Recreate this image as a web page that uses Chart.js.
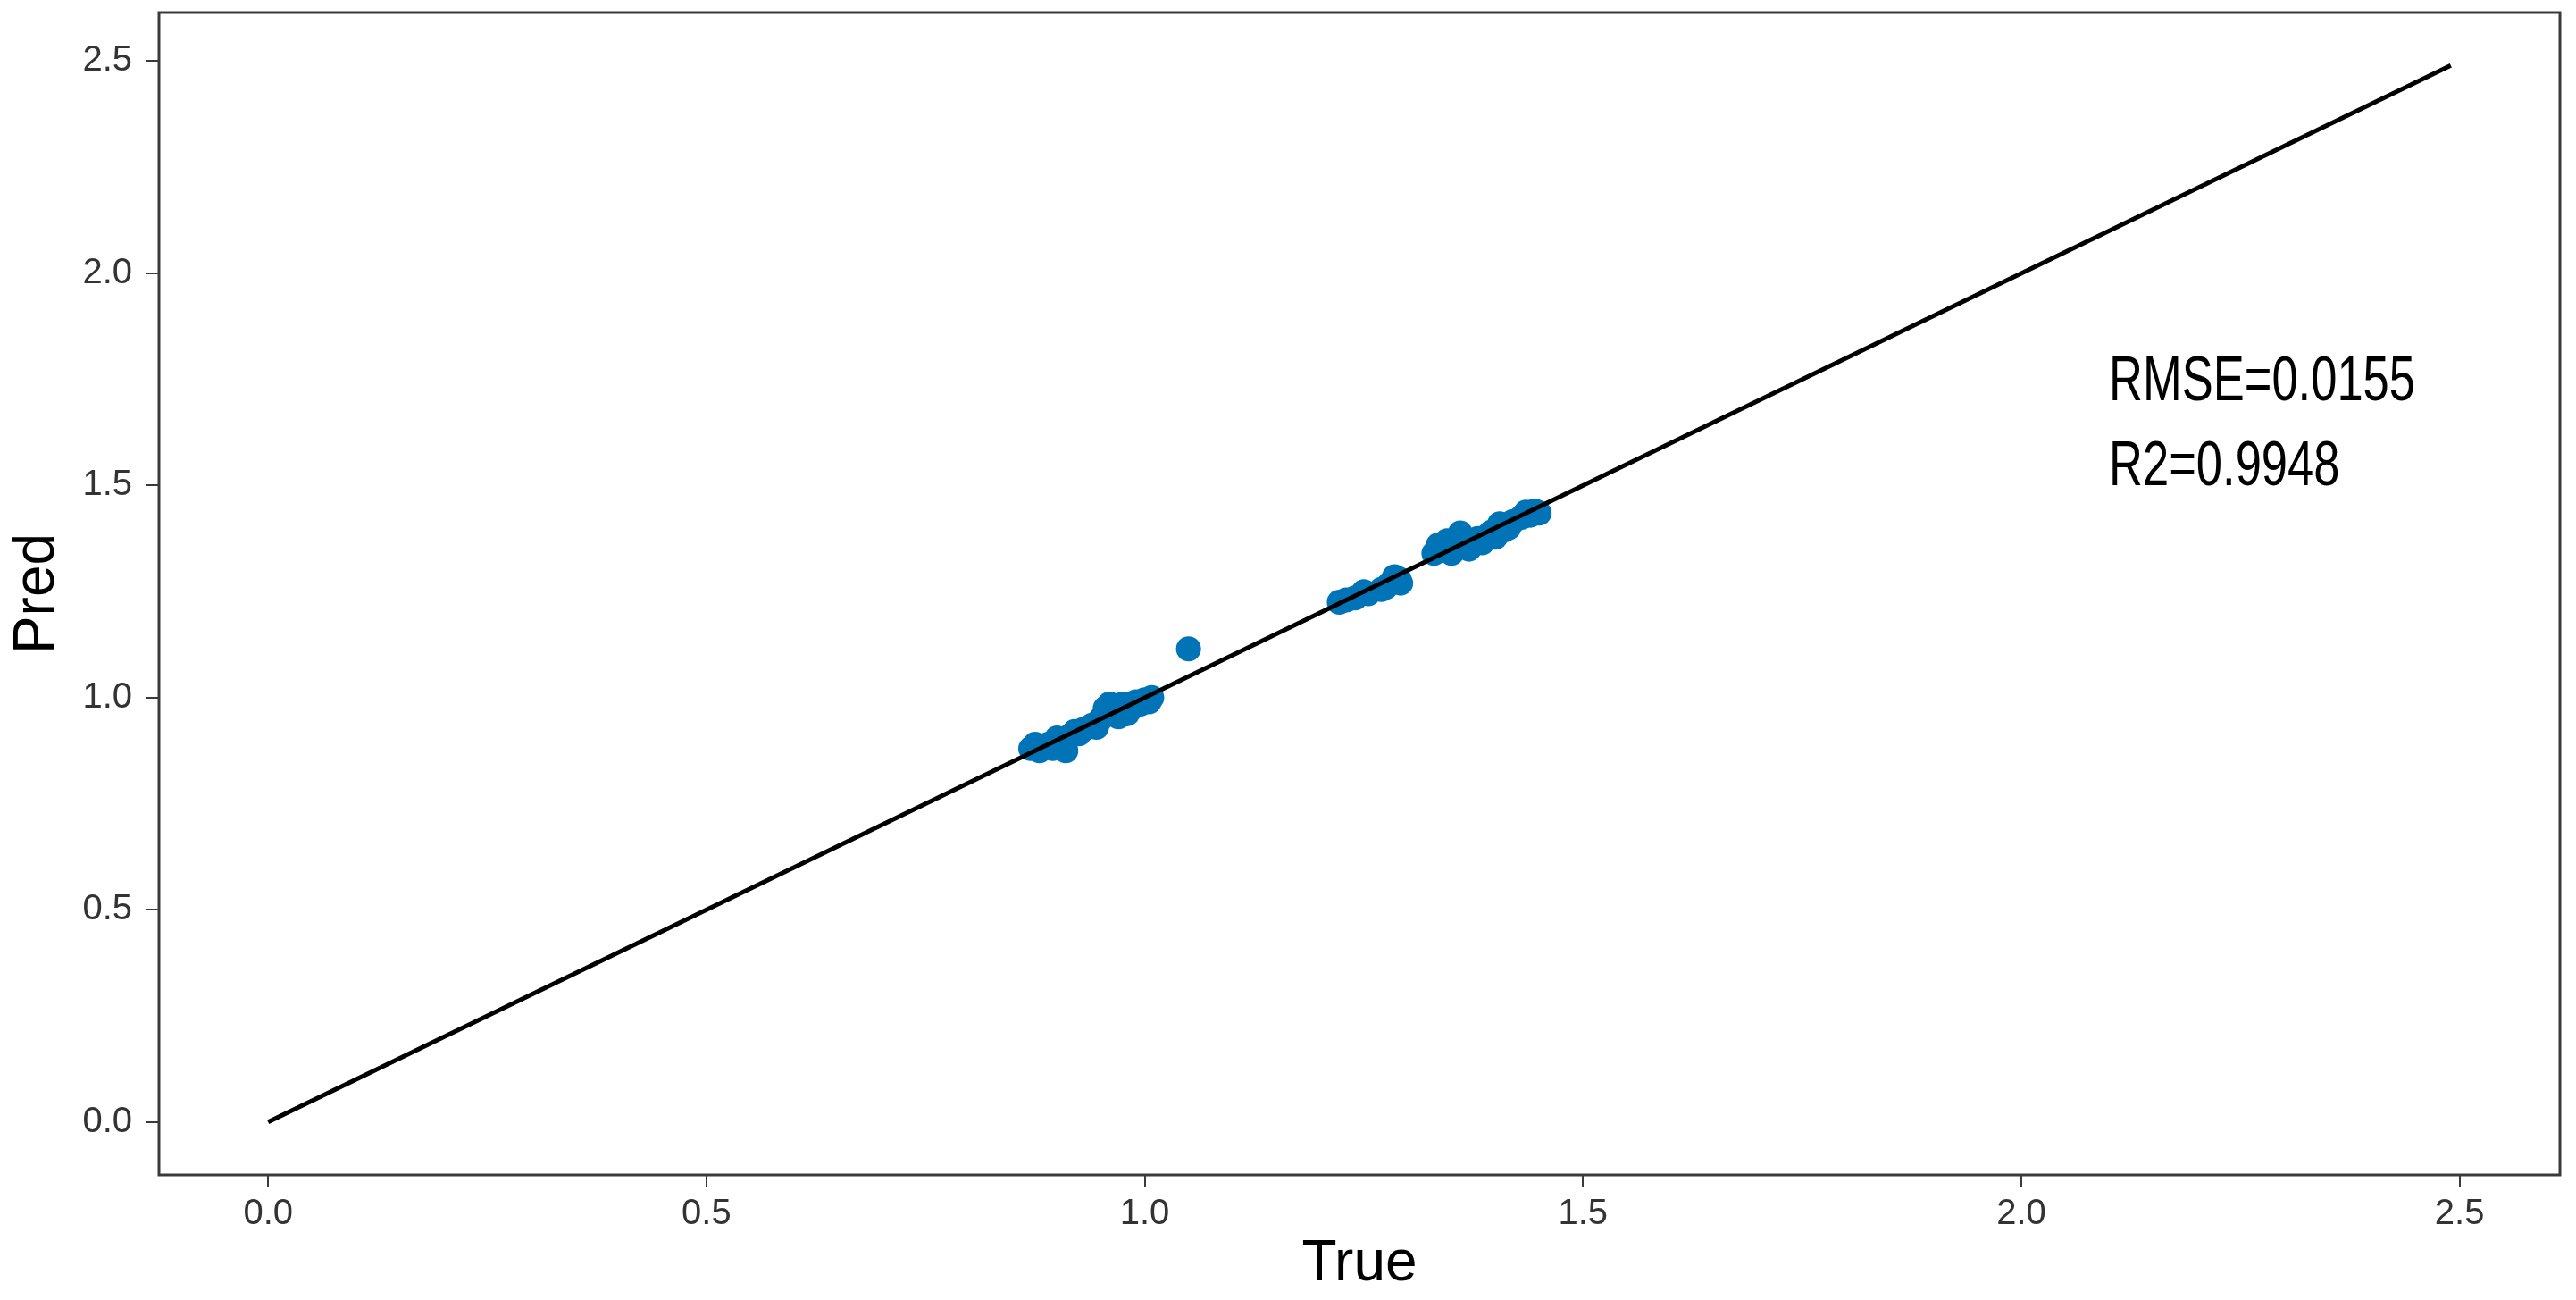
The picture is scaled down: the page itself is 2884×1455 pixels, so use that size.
<!DOCTYPE html>
<html>
<head>
<meta charset="utf-8">
<script src="https://cdn.jsdelivr.net/npm/chart.js@4/dist/chart.umd.min.js"></script>
<style>
  html, body { margin: 0; padding: 0; background: #ffffff; }
  #wrap { width: 2884px; height: 1455px; }
</style>
</head>
<body>
<div id="wrap"><canvas id="c" width="2884" height="1455"></canvas></div>
<script>
// ---- data ----
const trueVals = [
  0.870, 0.875, 0.880, 0.885, 0.890, 0.895, 0.900, 0.905, 0.910, 0.915, 0.920, 0.925, 0.930, 0.940,
  0.945, 0.950, 0.955, 0.960, 0.965, 0.970, 0.975, 0.980, 0.985, 0.990, 0.995, 1.000, 1.005, 1.008,
  1.050,
  1.222, 1.230, 1.240, 1.250, 1.255, 1.270, 1.275, 1.280, 1.285, 1.290, 1.292,
  1.330, 1.335, 1.340, 1.345, 1.350, 1.355, 1.360, 1.365, 1.370, 1.375, 1.380, 1.385, 1.390, 1.395,
  1.400, 1.405, 1.410, 1.415, 1.420, 1.430, 1.435, 1.440, 1.445, 1.450
];
const predVals = [
  0.880, 0.890, 0.875, 0.885, 0.890, 0.880, 0.905, 0.895, 0.875, 0.910, 0.920, 0.915, 0.925, 0.935,
  0.930, 0.950, 0.975, 0.985, 0.980, 0.955, 0.985, 0.962, 0.975, 0.990, 0.985, 0.995, 0.990, 1.000,
  1.115,
  1.225, 1.230, 1.235, 1.250, 1.245, 1.255, 1.260, 1.270, 1.285, 1.280, 1.270,
  1.340, 1.360, 1.350, 1.370, 1.340, 1.365, 1.388, 1.360, 1.350, 1.370, 1.375, 1.365, 1.380, 1.390,
  1.378, 1.410, 1.395, 1.400, 1.415, 1.425, 1.437, 1.430, 1.440, 1.435
];
const refLineX = [0, 2.49];
const refLineY = [0, 2.49];
const xTicks = [0.0, 0.5, 1.0, 1.5, 2.0, 2.5];
const yTicks = [0.0, 0.5, 1.0, 1.5, 2.0, 2.5];
const axisMin = -0.1245;
const axisMax = 2.6145;
const annoLines = ['RMSE=0.0155', 'R2=0.9948'];
const annoX = 2.1;
const annoY = [1.7, 1.5];

// ---- build chart ----
const scatterPts = trueVals.map((t, i) => ({ x: t, y: predVals[i] }));
const linePts = refLineX.map((x, i) => ({ x: x, y: refLineY[i] }));

const frameAndText = {
  id: 'frameAndText',
  afterDatasetsDraw(chart) {
    const { ctx, chartArea: a, scales } = chart;
    ctx.save();
    // frame
    ctx.strokeStyle = '#3a3a3a';
    ctx.lineWidth = 3;
    ctx.strokeRect(a.left, a.top, a.right - a.left, a.bottom - a.top);
    // annotation text
    ctx.fillStyle = '#000000';
    ctx.font = '70px "Liberation Sans", Arial, sans-serif';
    ctx.textAlign = 'left';
    ctx.textBaseline = 'alphabetic';
    annoLines.forEach((txt, i) => {
      const px = scales.x.getPixelForValue(annoX);
      const py = scales.y.getPixelForValue(annoY[i]);
      ctx.save();
      ctx.translate(px, py);
      ctx.scale(0.75, 1);
      ctx.fillText(txt, 0, 0);
      ctx.restore();
    });
    ctx.restore();
  }
};

const tickFont = { family: '"Liberation Sans", Arial, sans-serif', size: 40 };
const titleFont = { family: '"Liberation Sans", Arial, sans-serif', size: 64 };

new Chart(document.getElementById('c'), {
  type: 'scatter',
  data: {
    datasets: [
      {
        type: 'line',
        label: 'y=x',
        data: linePts,
        borderColor: '#000000',
        borderWidth: 5,
        pointRadius: 0,
        fill: false,
        tension: 0,
        order: 0
      },
      {
        type: 'scatter',
        label: 'pred',
        data: scatterPts,
        backgroundColor: '#0174b8',
        borderWidth: 0,
        pointRadius: 14,
        pointHoverRadius: 14,
        order: 1
      }
    ]
  },
  options: {
    responsive: false,
    animation: false,
    devicePixelRatio: 1,
    layout: { padding: { left: 0, right: 18, top: 9, bottom: 0 } },
    plugins: {
      legend: { display: false },
      tooltip: { enabled: false }
    },
    scales: {
      x: {
        type: 'linear',
        min: axisMin,
        max: axisMax,
        afterBuildTicks: (s) => { s.ticks = xTicks.map(v => ({ value: v })); },
        afterFit: (s) => { s.height = 140; s.paddingLeft = 0; s.paddingRight = 0; },
        border: { display: false },
        grid: { display: true, drawOnChartArea: false, drawTicks: true, tickLength: 14, color: '#3a3a3a', lineWidth: 2 },
        ticks: {
          font: tickFont, color: '#333333', padding: 6,
          maxRotation: 0, autoSkip: false,
          callback: (v) => Number(v).toFixed(1)
        },
        title: { display: true, text: 'True', font: titleFont, color: '#000000', padding: { top: 0, bottom: 1 } }
      },
      y: {
        type: 'linear',
        min: axisMin,
        max: axisMax,
        afterBuildTicks: (s) => { s.ticks = yTicks.map(v => ({ value: v })); },
        afterFit: (s) => { s.width = 178; s.paddingTop = 0; s.paddingBottom = 0; },
        border: { display: false },
        grid: { display: true, drawOnChartArea: false, drawTicks: true, tickLength: 14, color: '#3a3a3a', lineWidth: 2 },
        ticks: {
          font: tickFont, color: '#333333', padding: 16,
          autoSkip: false,
          callback: (v) => Number(v).toFixed(1)
        },
        title: { display: true, text: 'Pred', font: titleFont, color: '#000000', padding: { top: 4, bottom: 0 } }
      }
    }
  },
  plugins: [frameAndText]
});
</script>
</body>
</html>
